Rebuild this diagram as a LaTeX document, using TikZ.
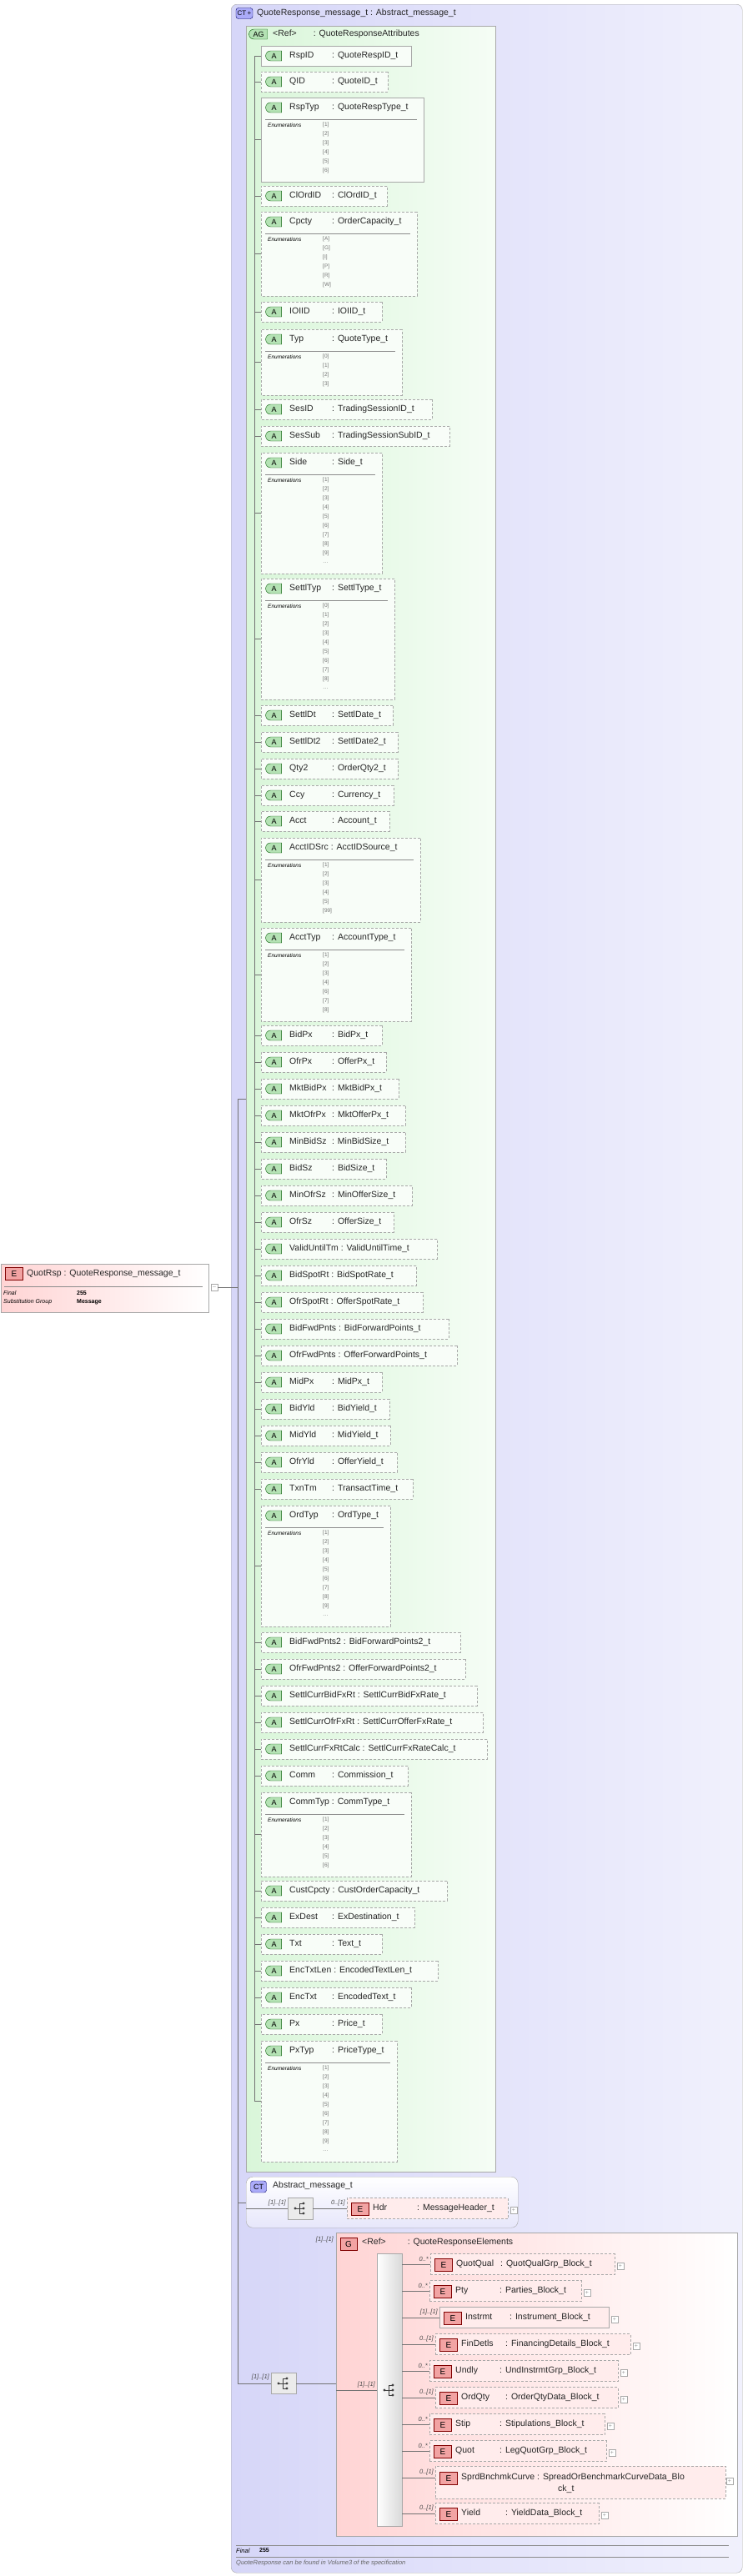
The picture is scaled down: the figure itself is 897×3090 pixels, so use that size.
\documentclass[tikz,border=0pt]{standalone}
\usepackage{fontspec}
\setmainfont{Liberation Sans}
\usetikzlibrary{shapes.misc}
\definecolor{ctc}{HTML}{D6D6F8}
\definecolor{agc}{HTML}{D9F6D9}
\definecolor{gc}{HTML}{FFD4D4}
\definecolor{ebad}{HTML}{F2A3A3}
\definecolor{abad}{HTML}{B4E2B4}
\definecolor{bord}{HTML}{A8A8A8}
\tikzset{
 x=1pt,y=-1pt,
 attr/.style={chamfered rectangle,chamfered rectangle corners={north west,south west},
   chamfered rectangle xsep=5pt,chamfered rectangle ysep=5pt,draw=bord,
   fill=agc!18,inner sep=0,outer sep=0},
 dsh/.style={dash pattern=on 3pt off 2pt},
 abadge/.style={rounded rectangle,rounded rectangle right arc=none,draw=green!35!black,
   fill=abad,minimum width=19pt,minimum height=12pt,inner sep=0,font=\fontsize{9}{9}\selectfont},
 ebadge/.style={rectangle,draw=red!50!black,fill=ebad,minimum width=21pt,minimum height=15pt,
   inner sep=0,font=\fontsize{10}{10}\selectfont},
 ebox/.style={rectangle,draw=bord,fill=gc!45,inner sep=0,outer sep=0},
 lbl/.style={anchor=west,inner sep=0,font=\fontsize{10.5}{12}\selectfont,text=black!85},
 enh/.style={anchor=west,inner sep=0,font=\fontsize{6.5}{7}\selectfont\itshape},
 env/.style={anchor=west,inner sep=0,font=\fontsize{6.5}{7}\selectfont,text=black!55},
 card/.style={anchor=south east,inner sep=0,font=\fontsize{7.5}{8}\selectfont\itshape,text=black!70},
 conn/.style={draw=black!55,line width=.6pt},
 plusb/.style={rectangle,draw=bord,fill=white,minimum size=8pt,inner sep=0,
   font=\fontsize{7}{7}\selectfont,text=black!40},
}
\newsavebox\nmbox
\newcommand\nmA[1]{\sbox\nmbox{#1}\ifdim\wd\nmbox<46pt\makebox[51pt][l]{#1}\else#1\ \fi}
\newcommand\nmE[1]{\sbox\nmbox{#1}\ifdim\wd\nmbox<48pt\makebox[53pt][l]{#1}\else#1\ \fi}
\newcommand\qatt[5]{%
 \node[attr,#3,minimum width={(#2-313)*1pt},minimum height=24pt,anchor=north west] (a#1) at (313,#1) {};
 \node[abadge] at (328.5,#1+12) {A};
 \node[lbl] at (347,#1+12) {\nmA{#4}: #5};
 \draw[conn] (305,#1+12) -- (a#1.west);}
\newcommand\eatt[7]{%
 \node[attr,#3,minimum width={(#2-313)*1pt},minimum height={(35+11*#7)*1pt},anchor=north west] (a#1) at (313,#1) {};
 \node[abadge] at (328.5,#1+12) {A};
 \node[lbl] at (347,#1+12) {\nmA{#4}: #5};
 \draw[black!45] (318,#1+26) -- (#2-8,#1+26);
 \node[enh] at (321,#1+33) {Enumerations};
 \foreach \v [count=\i] in {#6} \node[env] at (387,#1+22+11*\i) {\v};
 \draw[conn] (305,#1+17.5+5.5*#7) -- (a#1.west);}
\newcommand\elem[8]{%
 \node[ebox,#5,minimum width={(#4-#3)*1pt},minimum height=25pt,anchor=west] (#1) at (#3,#2) {};
 \node[ebadge] at (#3+16,#2+1) {E};
 \node[lbl] at (#3+31,#2) {\nmE{#7}: #8};
 \node[plusb] (#1p) at (#4+7,#2+2) {+};
 \node[card] at (#3-2,#2-3) {#6};}
\newcommand\seqicon[2]{%
 \draw[black!75,line width=.8pt] (#1-6,#2) -- (#1-1,#2) (#1-1,#2-6) -- (#1-1,#2+6)
   (#1-1,#2-6) -- (#1+4,#2-6) (#1-1,#2+6) -- (#1+4,#2+6) (#1-1,#2) -- (#1+4,#2);
 \fill[black!75] (#1-6,#2) circle (1.6) (#1+4,#2-6) circle (1.6) (#1+4,#2) circle (1.6) (#1+4,#2+6) circle (1.6);}
\begin{document}
\begin{tikzpicture}
\fill[white] (0,0) rectangle (897,3090);
\useasboundingbox (0,0) rectangle (897,3090);
\node[rectangle,rounded corners=7pt,draw=bord,left color=ctc,right color=ctc!35,
  minimum width=613pt,minimum height=3081pt,anchor=north west,inner sep=0] (ct) at (277,5) {};
\node[rectangle,rounded corners=3pt,draw=blue!40!black,fill=ctc!80!blue,minimum width=20pt,
  minimum height=13pt,inner sep=0,font=\fontsize{8}{8}\selectfont] (ctb) at (293,16) {CT\,+};
\node[lbl] (ctt) at (308,16) {QuoteResponse\_message\_t : Abstract\_message\_t};
\node[chamfered rectangle,chamfered rectangle corners={north west,south west},
  chamfered rectangle xsep=8pt,chamfered rectangle ysep=8pt,draw=bord,left color=agc,right color=agc!25,
  minimum width=299pt,minimum height=2574pt,anchor=north west,inner sep=0] (ag) at (295,31) {};
\node[abadge,minimum width=22pt] (agb) at (310,41) {AG};
\node[lbl] (agt) at (327,41) {<Ref>\hspace{20pt}: QuoteResponseAttributes};
\draw[conn] (305,67) -- (305,2520);
\qatt{55}{493}{}{RspID}{QuoteRespID\_t}
\qatt{86}{465}{dsh}{QID}{QuoteID\_t}
\eatt{117}{508}{}{RspTyp}{QuoteRespType\_t}{[1],[2],[3],[4],[5],[6]}{6}
\qatt{223}{464}{dsh}{ClOrdID}{ClOrdID\_t}
\eatt{254}{500}{dsh}{Cpcty}{OrderCapacity\_t}{[A],[G],[I],[P],[R],[W]}{6}
\qatt{362}{458}{dsh}{IOIID}{IOIID\_t}
\eatt{395}{482}{dsh}{Typ}{QuoteType\_t}{[0],[1],[2],[3]}{4}
\qatt{479}{518}{dsh}{SesID}{TradingSessionID\_t}
\qatt{511}{539}{dsh}{SesSub}{TradingSessionSubID\_t}
\eatt{543}{458}{dsh}{Side}{Side\_t}{[1],[2],[3],[4],[5],[6],[7],[8],[9],\ldots}{10}
\eatt{694}{473}{dsh}{SettlTyp}{SettlType\_t}{[0],[1],[2],[3],[4],[5],[6],[7],[8],\ldots}{10}
\qatt{846}{471}{dsh}{SettlDt}{SettlDate\_t}
\qatt{878}{477}{dsh}{SettlDt2}{SettlDate2\_t}
\qatt{910}{477}{dsh}{Qty2}{OrderQty2\_t}
\qatt{942}{472}{dsh}{Ccy}{Currency\_t}
\qatt{973}{467}{dsh}{Acct}{Account\_t}
\eatt{1005}{504}{dsh}{AcctIDSrc}{AcctIDSource\_t}{[1],[2],[3],[4],[5],[99]}{6}
\eatt{1113}{493}{dsh}{AcctTyp}{AccountType\_t}{[1],[2],[3],[4],[6],[7],[8]}{7}
\qatt{1230}{458}{dsh}{BidPx}{BidPx\_t}
\qatt{1262}{463}{dsh}{OfrPx}{OfferPx\_t}
\qatt{1294}{478}{dsh}{MktBidPx}{MktBidPx\_t}
\qatt{1326}{486}{dsh}{MktOfrPx}{MktOfferPx\_t}
\qatt{1358}{486}{dsh}{MinBidSz}{MinBidSize\_t}
\qatt{1390}{463}{dsh}{BidSz}{BidSize\_t}
\qatt{1422}{494}{dsh}{MinOfrSz}{MinOfferSize\_t}
\qatt{1454}{472}{dsh}{OfrSz}{OfferSize\_t}
\qatt{1486}{524}{dsh}{ValidUntilTm}{ValidUntilTime\_t}
\qatt{1518}{499}{dsh}{BidSpotRt}{BidSpotRate\_t}
\qatt{1550}{507}{dsh}{OfrSpotRt}{OfferSpotRate\_t}
\qatt{1582}{538}{dsh}{BidFwdPnts}{BidForwardPoints\_t}
\qatt{1614}{548}{dsh}{OfrFwdPnts}{OfferForwardPoints\_t}
\qatt{1646}{458}{dsh}{MidPx}{MidPx\_t}
\qatt{1678}{467}{dsh}{BidYld}{BidYield\_t}
\qatt{1710}{468}{dsh}{MidYld}{MidYield\_t}
\qatt{1742}{476}{dsh}{OfrYld}{OfferYield\_t}
\qatt{1774}{495}{dsh}{TxnTm}{TransactTime\_t}
\eatt{1806}{468}{dsh}{OrdTyp}{OrdType\_t}{[1],[2],[3],[4],[5],[6],[7],[8],[9],\ldots}{10}
\qatt{1958}{552}{dsh}{BidFwdPnts2}{BidForwardPoints2\_t}
\qatt{1990}{558}{dsh}{OfrFwdPnts2}{OfferForwardPoints2\_t}
\qatt{2022}{572}{dsh}{SettlCurrBidFxRt}{SettlCurrBidFxRate\_t}
\qatt{2054}{579}{dsh}{SettlCurrOfrFxRt}{SettlCurrOfferFxRate\_t}
\qatt{2086}{584}{dsh}{SettlCurrFxRtCalc}{SettlCurrFxRateCalc\_t}
\qatt{2118}{489}{dsh}{Comm}{Commission\_t}
\eatt{2150}{493}{dsh}{CommTyp}{CommType\_t}{[1],[2],[3],[4],[5],[6]}{6}
\qatt{2256}{536}{dsh}{CustCpcty}{CustOrderCapacity\_t}
\qatt{2288}{497}{dsh}{ExDest}{ExDestination\_t}
\qatt{2320}{458}{dsh}{Txt}{Text\_t}
\qatt{2352}{525}{dsh}{EncTxtLen}{EncodedTextLen\_t}
\qatt{2384}{493}{dsh}{EncTxt}{EncodedText\_t}
\qatt{2416}{458}{dsh}{Px}{Price\_t}
\eatt{2448}{476}{dsh}{PxTyp}{PriceType\_t}{[1],[2],[3],[4],[5],[6],[7],[8],[9],\ldots}{10}
\node[rectangle,draw=bord,left color=gc,right color=white,minimum width=249pt,minimum height=58pt,anchor=north west,inner sep=0] (quot) at (1,1516) {};
\node[ebadge] (quotb) at (17,1528) {E};
\node[lbl] (quott) at (32,1528) {QuotRsp : QuoteResponse\_message\_t};
\draw[black!45] (5,1543) -- (243,1543);
\node[enh,font=\fontsize{7}{8}\selectfont\itshape] at (4,1551) {Final};
\node[enh,font=\fontsize{7}{8}\selectfont\bfseries] at (92,1551) {255};
\node[enh,font=\fontsize{7}{8}\selectfont\itshape] at (4,1562) {Substitution Group};
\node[enh,font=\fontsize{7}{8}\selectfont\bfseries] at (92,1562) {Message};
\node[plusb] (quotm) at (257,1544) {--};
\coordinate (ctin) at (285,1544);
\draw[conn] (quotm) -- (ctin);
\coordinate (vtop) at (285,1318);
\coordinate (agl) at (295,1318);
\coordinate (vbot) at (285,2859);
\draw[conn] (vtop) -- (vbot);
\draw[conn] (vtop) -- (agl);
\node[rectangle,rounded corners=8pt,draw=bord,top color=white,bottom color=ctc!60,
  minimum width=326pt,minimum height=61pt,anchor=north west,inner sep=0] (abs) at (295,2611) {};
\node[rectangle,rounded corners=3pt,draw=blue!40!black,fill=ctc!80!blue,minimum width=19pt,
  minimum height=14pt,inner sep=0,font=\fontsize{9}{9}\selectfont] (absb) at (310,2623) {CT};
\node[lbl] (abst) at (327,2622) {Abstract\_message\_t};
\coordinate (absin) at (295,2642);
\coordinate (absv) at (285,2642);
\draw[conn] (absv) -- (absin);
\node[rectangle,draw=bord,fill=black!8,minimum width=30pt,minimum height=26pt,inner sep=0] (seq1) at (360,2649) {};
\seqicon{360}{2649}
\node[card] at (343,2646) {[1]..[1]};
\coordinate (absl) at (295,2649);
\draw[conn] (absl) -- (seq1.west);
\elem{hdr}{2649}{416}{609}{dsh}{0..[1]}{Hdr}{MessageHeader\_t}
\draw[conn] (seq1.east) -- (hdr.west);
\node[rectangle,draw=bord,left color=gc,right color=white,minimum width=481pt,minimum height=364pt,
  anchor=north west,inner sep=0] (g) at (403,2678) {};
\node[card] at (400,2690) {[1]..[1]};
\node[ebadge,minimum width=20pt] (gb) at (418,2692) {G};
\node[lbl] (gt) at (434,2690) {<Ref>\hspace{26pt}: QuoteResponseElements};
\node[rectangle,draw=bord,left color=white,right color=black!15,minimum width=30pt,minimum height=327pt,
  anchor=north west,inner sep=0] (bar) at (452,2703) {};
\seqicon{467}{2867}
\node[card] at (450,2864) {[1]..[1]};
\coordinate (gin) at (403,2867);
\coordinate (barin) at (452,2867);
\draw[conn] (gin) -- (barin);
\node[rectangle,draw=bord,fill=black!8,minimum width=30pt,minimum height=25pt,inner sep=0] (seq2) at (340,2859) {};
\seqicon{340}{2859}
\node[card] at (323,2855) {[1]..[1]};
\coordinate (gin2) at (403,2859);
\draw[conn] (vbot) -- (seq2.west);
\draw[conn] (seq2.east) -- (gin2);
\elem{e1}{2716}{516}{737}{dsh}{0..*}{QuotQual}{QuotQualGrp\_Block\_t}
\elem{e2}{2748}{515}{697}{dsh}{0..*}{Pty}{Parties\_Block\_t}
\elem{e3}{2780}{527}{730}{}{[1]..[1]}{Instrmt}{Instrument\_Block\_t}
\elem{e4}{2812}{522}{756}{dsh}{0..[1]}{FinDetls}{FinancingDetails\_Block\_t}
\elem{e5}{2844}{515}{741}{dsh}{0..*}{Undly}{UndInstrmtGrp\_Block\_t}
\elem{e6}{2876}{522}{741}{dsh}{0..[1]}{OrdQty}{OrderQtyData\_Block\_t}
\elem{e7}{2908}{515}{725}{dsh}{0..*}{Stip}{Stipulations\_Block\_t}
\elem{e8}{2940}{515}{727}{dsh}{0..*}{Quot}{LegQuotGrp\_Block\_t}
\elem{e10}{3015}{522}{718}{dsh}{0..[1]}{Yield}{YieldData\_Block\_t}
\node[ebox,dsh,minimum width=348pt,minimum height=39pt,anchor=north west] (e9) at (522,2958) {};
\node[ebadge] at (538,2973) {E};
\node[lbl] at (553,2972) {SprdBnchmkCurve : SpreadOrBenchmarkCurveData\_Blo};
\node[lbl] at (669,2986) {ck\_t};
\node[plusb] (e9p) at (875,2976) {+};
\node[card] at (520,2969) {0..[1]};
\foreach \e/\yy in {e1/2716,e2/2748,e3/2780,e4/2812,e5/2844,e6/2876,e7/2908,e8/2940,e10/3015}
  \draw[conn] (482,\yy) -- (\e.west);
\coordinate (e9in) at (522,2972);
\draw[conn] (482,2972) -- (e9in);
\draw[black!45] (283,3053) -- (874,3053) (283,3067) -- (874,3067);
\node[enh,font=\fontsize{7.5}{8}\selectfont\itshape] at (283,3060) {Final};
\node[enh,font=\fontsize{7}{8}\selectfont\bfseries] at (311,3059) {255};
\node[enh,font=\fontsize{7.5}{8}\selectfont\itshape,text=black!60] at (283,3075) {QuoteResponse can be found in Volume3 of the specification};
\end{tikzpicture}
\end{document}
